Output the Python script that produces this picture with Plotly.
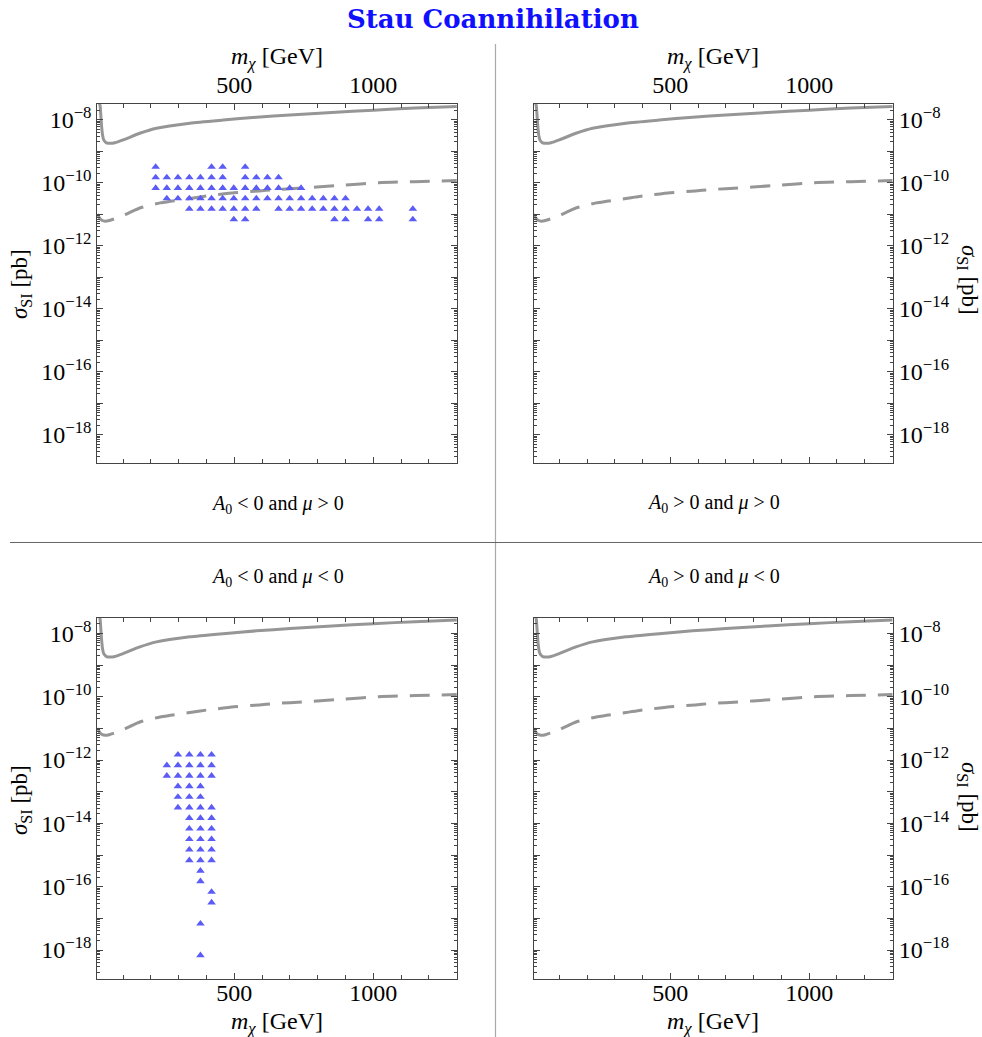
import plotly.graph_objects as go

# ---------------- data ----------------
# solid limit curve: neutralino mass [GeV], sigma_SI [pb]
solid_mass = [7, 12, 17, 20, 23, 26, 30, 40, 55, 70, 100, 160, 220, 340, 460, 580, 700, 850, 1000, 1150, 1300]
solid_sigma = [6.0e-8, 4.0e-8, 2.8e-8, 1.25e-8, 5.5e-9, 3.2e-9, 2.3e-9, 1.85e-9, 1.78e-9, 1.86e-9,
               2.29e-9, 3.72e-9, 5.37e-9, 7.76e-9, 9.77e-9, 1.20e-8, 1.41e-8, 1.71e-8, 2.02e-8, 2.34e-8, 2.63e-8]

# dashed (projected) curve
dash_mass = [7, 15, 25, 35, 50, 70, 90, 125, 160, 233, 270, 340, 377, 440, 500, 590, 640, 700, 890, 1020, 1150, 1300]
dash_sigma = [1.0e-11, 7.6e-12, 6.3e-12, 6.0e-12, 6.3e-12, 7.2e-12, 8.3e-12, 1.15e-11, 1.58e-11, 2.29e-11,
              2.57e-11, 3.16e-11, 3.55e-11, 4.17e-11, 4.79e-11, 5.5e-11, 6.03e-11, 6.46e-11, 8.3e-11,
              1.0e-10, 1.08e-10, 1.17e-10]

# A0 < 0, mu > 0 scan points
tl_mass = [217, 418, 458, 539,
           217, 257, 297, 338, 378, 418, 458, 539, 579, 619, 659,
           217, 257, 297, 338, 378, 418, 458, 498, 539, 579, 619, 659, 699, 740,
           257, 297, 338, 378, 418, 458, 498, 539, 579, 619, 659, 699, 740, 780, 820, 860, 900,
           338, 378, 418, 458, 498, 539, 579, 659, 699, 740, 780, 820, 860, 900, 941, 981, 1021, 1142,
           498, 539, 860, 900, 981, 1021, 1142]
tl_sigma = [3.16e-10] * 4 + [1.47e-10] * 11 + [6.8e-11] * 14 + [3.16e-11] * 17 + [1.47e-11] * 18 + [6.8e-12] * 7

# A0 < 0, mu < 0 scan points
bl_mass = [297, 338, 378, 418,
           257, 297, 338, 378, 418,
           257, 297, 338, 378, 418,
           297, 338, 378,
           297, 338, 378,
           297, 338, 378, 418,
           338, 378, 418,
           338, 378, 418,
           338, 378, 418,
           338, 378, 418,
           338, 378, 418,
           378, 378,
           418, 418,
           378, 378]
bl_sigma = ([1.47e-12] * 4 + [6.8e-13] * 5 + [3.16e-13] * 5 + [1.47e-13] * 3 + [6.8e-14] * 3 +
            [3.16e-14] * 4 + [1.47e-14] * 3 + [6.8e-15] * 3 + [3.16e-15] * 3 + [1.47e-15] * 3 +
            [6.8e-16] * 3 + [3.16e-16, 1.47e-16] + [6.8e-17, 3.16e-17] + [6.8e-18, 6.8e-19])

x_tick_vals = [500, 1000]
x_tick_text = ["500", "1000"]
y_tick_vals = [1e-18, 1e-17, 1e-16, 1e-15, 1e-14, 1e-13, 1e-12, 1e-11, 1e-10, 1e-9, 1e-8]
y_tick_text = ["10<sup>−18</sup>", " ", "10<sup>−16</sup>", " ", "10<sup>−14</sup>", " ",
               "10<sup>−12</sup>", " ", "10<sup>−10</sup>", " ", "10<sup>−8</sup>"]

panel_labels = ["<i>A</i><sub>0</sub> &lt; 0 and <i>μ</i> &gt; 0",
                "<i>A</i><sub>0</sub> &gt; 0 and <i>μ</i> &gt; 0",
                "<i>A</i><sub>0</sub> &lt; 0 and <i>μ</i> &lt; 0",
                "<i>A</i><sub>0</sub> &gt; 0 and <i>μ</i> &lt; 0"]

# ---------------- layout helpers ----------------
W, H = 982, 1037
SERIF = "Liberation Serif"
FRAME = "#444444"
LINE = "#969696"
MARK = "#5b5bf5"


def fx(p):
    return p / W


def fy(p):
    return 1 - p / H


boxes = [  # left, right, top, bottom in pixels
    (97.3, 457.3, 104, 463),
    (533.5, 893.0, 104, 463),
    (97.3, 457.3, 617.5, 978.5),
    (533.5, 893.0, 617.5, 978.5),
]

minor_x = [v for v in range(100, 1301, 100) if v not in (500, 1000)]
minor_y = [m * 10.0 ** k for k in range(-19, -7) for m in range(2, 10)]

fig = go.Figure()

for i in range(4):
    xa = "x" if i == 0 else f"x{i+1}"
    ya = "y" if i == 0 else f"y{i+1}"
    fig.add_trace(go.Scatter(x=solid_mass, y=solid_sigma, mode="lines", xaxis=xa, yaxis=ya,
                             line=dict(color=LINE, width=3, shape="spline", smoothing=0.6),
                             showlegend=False, hoverinfo="skip"))
    fig.add_trace(go.Scatter(x=dash_mass, y=dash_sigma, mode="lines", xaxis=xa, yaxis=ya,
                             line=dict(color=LINE, width=3, dash="20px,12px", shape="spline", smoothing=0.6),
                             showlegend=False, hoverinfo="skip"))

fig.add_trace(go.Scatter(x=tl_mass, y=tl_sigma, mode="markers", xaxis="x", yaxis="y",
                         marker=dict(symbol="triangle-up", size=7.5, color=MARK, line=dict(width=0)),
                         showlegend=False))
fig.add_trace(go.Scatter(x=bl_mass, y=bl_sigma, mode="markers", xaxis="x3", yaxis="y3",
                         marker=dict(symbol="triangle-up", size=7.5, color=MARK, line=dict(width=0)),
                         showlegend=False))

layout = dict(width=W, height=H, margin=dict(l=0, r=0, t=0, b=0),
              paper_bgcolor="white", plot_bgcolor="white", showlegend=False)

for i, (l, r, t, b) in enumerate(boxes):
    xk = "xaxis" if i == 0 else f"xaxis{i+1}"
    yk = "yaxis" if i == 0 else f"yaxis{i+1}"
    yname = "y" if i == 0 else f"y{i+1}"
    xname = "x" if i == 0 else f"x{i+1}"
    layout[xk] = dict(domain=[fx(l), fx(r)], anchor=yname, range=[7, 1302],
                      side="top" if i < 2 else "bottom",
                      ticklabelstandoff=0 if i < 2 else -7,
                      tickmode="array", tickvals=x_tick_vals, ticktext=x_tick_text,
                      ticks="inside", ticklen=6, tickwidth=1, tickcolor=FRAME,
                      minor=dict(tickmode="array", tickvals=minor_x, ticks="inside", ticklen=4,
                                 tickcolor=FRAME, tickwidth=1),
                      showline=True, linecolor=FRAME, linewidth=1, mirror="ticks",
                      showgrid=False, zeroline=False,
                      tickfont=dict(family=SERIF, size=24, color="black"))
    layout[yk] = dict(domain=[fy(b), fy(t)], anchor=xname, type="log", range=[-18.9, -7.5],
                      side="left" if i % 2 == 0 else "right",
                      tickmode="array", tickvals=y_tick_vals, ticktext=y_tick_text,
                      ticks="inside", ticklen=6, tickwidth=1, tickcolor=FRAME,
                      minor=dict(tickmode="array", tickvals=minor_y, ticks="inside", ticklen=3,
                                 tickcolor=FRAME, tickwidth=1),
                      showline=True, linecolor=FRAME, linewidth=1, mirror="ticks",
                      showgrid=False, zeroline=False,
                      tickfont=dict(family=SERIF, size=24, color="black"))

annotations = []
# title
annotations.append(dict(text="<b>Stau Coannihilation</b>", x=fx(493), y=fy(19), xref="paper", yref="paper",
                        showarrow=False, font=dict(family="DejaVu Serif", size=26, color="#1010ff"),
                        xanchor="center", yanchor="middle"))
# x titles
xt = "<i>m</i><sub><i>χ</i></sub> [GeV]"
for (cx, cy) in [(277, 58), (713, 58), (277, 1023), (713, 1023)]:
    annotations.append(dict(text=xt, x=fx(cx), y=fy(cy), xref="paper", yref="paper", showarrow=False,
                            font=dict(family=SERIF, size=24, color="black"),
                            xanchor="center", yanchor="middle"))
# y titles
yt = "<i>σ</i><sub>SI</sub> [pb]"
for (cx, cy, ang) in [(21, 284, -90), (968, 280, 90), (21, 800, -90), (968, 797, 90)]:
    annotations.append(dict(text=yt, x=fx(cx), y=fy(cy), xref="paper", yref="paper", showarrow=False,
                            textangle=ang, font=dict(family=SERIF, size=23, color="black"),
                            xanchor="center", yanchor="middle"))
# panel labels
for txt, (cx, cy) in zip(panel_labels, [(277, 504), (713, 503), (277, 577), (713, 577)]):
    annotations.append(dict(text=txt, x=fx(cx), y=fy(cy), xref="paper", yref="paper", showarrow=False,
                            font=dict(family=SERIF, size=20, color="black"),
                            xanchor="center", yanchor="middle"))
layout["annotations"] = annotations

layout["shapes"] = [
    dict(type="line", xref="paper", yref="paper", x0=fx(495.5), x1=fx(495.5), y0=fy(44), y1=fy(1037),
         line=dict(color="#aaaaaa", width=1.2)),
    dict(type="line", xref="paper", yref="paper", x0=fx(10), x1=fx(982), y0=fy(542.5), y1=fy(542.5),
         line=dict(color="#666666", width=1)),
]

fig.update_layout(**layout)
fig.write_html("out.html")
